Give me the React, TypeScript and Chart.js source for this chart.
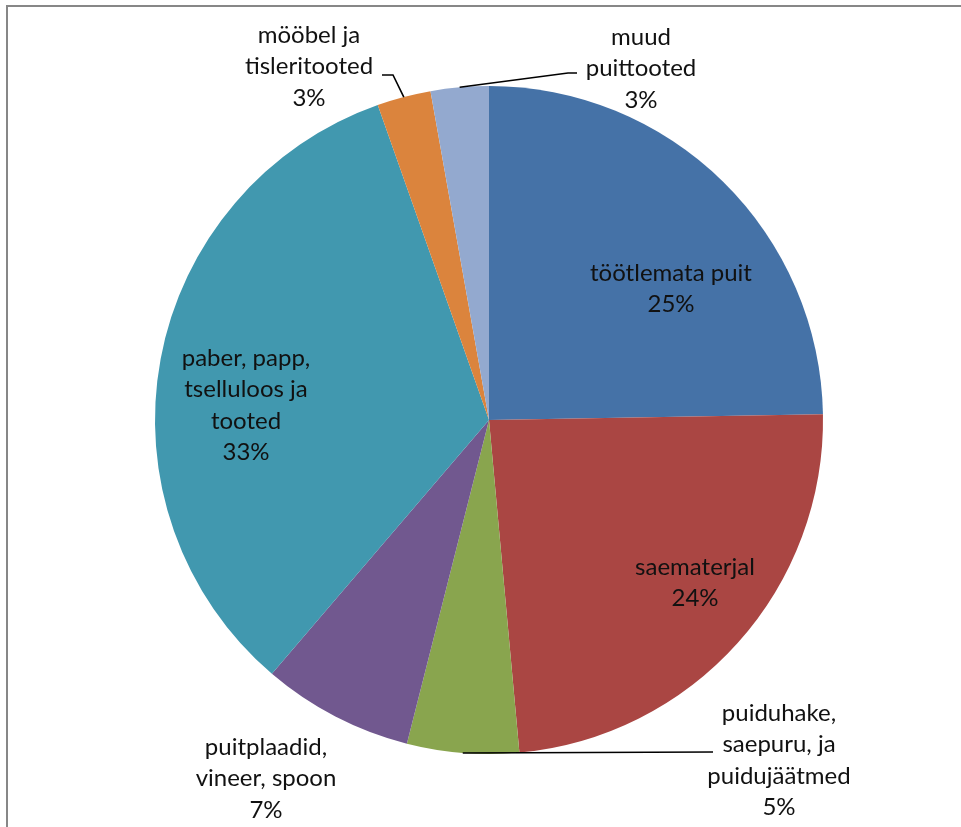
import React, { useEffect, useRef } from "react";
import { Chart, registerables } from "chart.js";

Chart.register(...registerables);

const categories = [
  "töötlemata puit",
  "saematerjal",
  "puiduhake,\nsaepuru, ja\npuidujäätmed",
  "puitplaadid,\nvineer, spoon",
  "paber, papp,\ntselluloos ja\ntooted",
  "mööbel ja\ntisleritooted",
  "muud\npuittooted",
];
const shares = [24.7, 23.8, 5.4, 7.3, 33.3, 2.6, 2.8];
const colors = ["#4572A7", "#AA4643", "#89A54E", "#71588F", "#4198AF", "#DB843D", "#93A9CF"];

// label anchor (centre x, first line y) and optional leader line end points
const labelLayout = [
  { x: 671, y: 273, leader: null },
  { x: 695, y: 567, leader: null },
  { x: 779, y: 713, leader: [[713, 752]] },
  { x: 266, y: 747, leader: null },
  { x: 246, y: 358, leader: null },
  { x: 309, y: 35, leader: [[393, 75], [382, 75]] },
  { x: 641, y: 37, leader: [[568, 73], [577, 73]] },
];

const FONT = "24px Lato, 'Open Sans', sans-serif";
const LINE_H = 31.5;

const framePlugin = {
  id: "frame",
  beforeDraw(chart: any) {
    const ctx = chart.ctx;
    ctx.save();
    ctx.fillStyle = "#ffffff";
    ctx.fillRect(0, 0, chart.width, chart.height);
    ctx.strokeStyle = "#878787";
    ctx.lineWidth = 2;
    ctx.strokeRect(7, 6, chart.width + 20, chart.height + 20);
    ctx.restore();
  },
};

const labelPlugin = {
  id: "sliceLabels",
  afterDraw(chart: any) {
    const ctx = chart.ctx;
    const meta = chart.getDatasetMeta(0);
    const data = chart.data.datasets[0].data as number[];
    const total = data.reduce((a, b) => a + b, 0);
    ctx.save();
    meta.data.forEach((arc: any, i: number) => {
      const lay = labelLayout[i];
      if (lay.leader) {
        const mid = (arc.startAngle + arc.endAngle) / 2;
        const sx = arc.x + Math.cos(mid) * arc.outerRadius;
        const sy = arc.y + Math.sin(mid) * arc.outerRadius;
        ctx.beginPath();
        ctx.moveTo(sx, sy);
        lay.leader.forEach((p: number[]) => ctx.lineTo(p[0], p[1]));
        ctx.strokeStyle = "#000000";
        ctx.lineWidth = 1.6;
        ctx.stroke();
      }
      const lines = String(chart.data.labels[i]).split("\n");
      lines.push(Math.round((data[i] / total) * 100) + "%");
      ctx.font = FONT;
      ctx.fillStyle = "#111111";
      ctx.textAlign = "center";
      ctx.textBaseline = "middle";
      lines.forEach((t, k) => ctx.fillText(t, lay.x, lay.y + k * LINE_H));
    });
    ctx.restore();
  },
};

export default function App() {
  const ref = useRef<HTMLCanvasElement>(null);
  useEffect(() => {
    if (!ref.current) return;
    const chart = new Chart(ref.current, {
      type: "pie",
      data: {
        labels: categories,
        datasets: [
          {
            data: shares,
            backgroundColor: colors,
            borderWidth: 0,
          },
        ],
      },
      options: {
        animation: false,
        responsive: false,
        maintainAspectRatio: false,
        layout: { padding: { left: 155, right: 138, top: 86, bottom: 73 } },
        plugins: {
          legend: { display: false },
          tooltip: { enabled: false },
        },
      },
      plugins: [framePlugin, labelPlugin],
    });
    return () => chart.destroy();
  }, []);
  return (
    <div style={{ position: "fixed", left: 0, top: 0, width: 961, height: 827 }}>
      <canvas ref={ref} width={961} height={827} style={{ display: "block" }} />
    </div>
  );
}
